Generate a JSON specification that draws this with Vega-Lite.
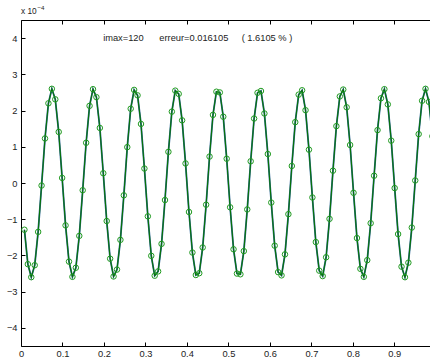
{
  "$schema": "https://vega.github.io/schema/vega-lite/v6.json",
  "width": 409,
  "height": 326,
  "autosize": "none",
  "padding": {"left": 21, "top": 20, "right": 0, "bottom": 12},
  "background": "white",
  "config": {
    "view": {"stroke": null},
    "font": "Liberation Sans",
    "axis": {
      "grid": false,
      "domainColor": "#000000",
      "domainWidth": 1,
      "tickColor": "#000000",
      "tickWidth": 1,
      "labelColor": "#222222",
      "labelFont": "Liberation Sans",
      "labelFontSize": 9.3,
      "title": null
    }
  },
  "resolve": {"axis": {"x": "independent"}, "scale": {"x": "shared", "y": "shared"}},
  "data": {
    "values": [
      {"t": 0.00826, "y": -1.29}, {"t": 0.01653, "y": -2.24}, {"t": 0.02479, "y": -2.6}, {"t": 0.03306, "y": -2.27},
      {"t": 0.04132, "y": -1.35}, {"t": 0.04959, "y": -0.07}, {"t": 0.05785, "y": 1.23}, {"t": 0.06612, "y": 2.2},
      {"t": 0.07438, "y": 2.6}, {"t": 0.08264, "y": 2.31}, {"t": 0.09091, "y": 1.41}, {"t": 0.09917, "y": 0.14},
      {"t": 0.10744, "y": -1.17}, {"t": 0.1157, "y": -2.17}, {"t": 0.12397, "y": -2.59}, {"t": 0.13223, "y": -2.34},
      {"t": 0.1405, "y": -1.46}, {"t": 0.14876, "y": -0.2}, {"t": 0.15702, "y": 1.11}, {"t": 0.16529, "y": 2.13},
      {"t": 0.17355, "y": 2.59}, {"t": 0.18182, "y": 2.37}, {"t": 0.19008, "y": 1.52}, {"t": 0.19835, "y": 0.27},
      {"t": 0.20661, "y": -1.05}, {"t": 0.21488, "y": -2.09}, {"t": 0.22314, "y": -2.58}, {"t": 0.2314, "y": -2.39},
      {"t": 0.23967, "y": -1.57}, {"t": 0.24793, "y": -0.34}, {"t": 0.2562, "y": 0.99}, {"t": 0.26446, "y": 2.05},
      {"t": 0.27273, "y": 2.57}, {"t": 0.28099, "y": 2.42}, {"t": 0.28926, "y": 1.63}, {"t": 0.29752, "y": 0.4},
      {"t": 0.30579, "y": -0.92}, {"t": 0.31405, "y": -2.01}, {"t": 0.32231, "y": -2.56}, {"t": 0.33058, "y": -2.44},
      {"t": 0.33884, "y": -1.68}, {"t": 0.34711, "y": -0.47}, {"t": 0.35537, "y": 0.86}, {"t": 0.36364, "y": 1.97},
      {"t": 0.3719, "y": 2.55}, {"t": 0.38017, "y": 2.46}, {"t": 0.38843, "y": 1.73}, {"t": 0.39669, "y": 0.54},
      {"t": 0.40496, "y": -0.8}, {"t": 0.41322, "y": -1.92}, {"t": 0.42149, "y": -2.54}, {"t": 0.42975, "y": -2.49},
      {"t": 0.43802, "y": -1.78}, {"t": 0.44628, "y": -0.6}, {"t": 0.45455, "y": 0.73}, {"t": 0.46281, "y": 1.88},
      {"t": 0.47107, "y": 2.52}, {"t": 0.47934, "y": 2.5}, {"t": 0.4876, "y": 1.83}, {"t": 0.49587, "y": 0.67},
      {"t": 0.50413, "y": -0.67}, {"t": 0.5124, "y": -1.83}, {"t": 0.52066, "y": -2.5}, {"t": 0.52893, "y": -2.52},
      {"t": 0.53719, "y": -1.88}, {"t": 0.54545, "y": -0.73}, {"t": 0.55372, "y": 0.6}, {"t": 0.56198, "y": 1.78},
      {"t": 0.57025, "y": 2.49}, {"t": 0.57851, "y": 2.54}, {"t": 0.58678, "y": 1.92}, {"t": 0.59504, "y": 0.8},
      {"t": 0.60331, "y": -0.54}, {"t": 0.61157, "y": -1.73}, {"t": 0.61983, "y": -2.46}, {"t": 0.6281, "y": -2.55},
      {"t": 0.63636, "y": -1.97}, {"t": 0.64463, "y": -0.86}, {"t": 0.65289, "y": 0.47}, {"t": 0.66116, "y": 1.68},
      {"t": 0.66942, "y": 2.44}, {"t": 0.67769, "y": 2.56}, {"t": 0.68595, "y": 2.01}, {"t": 0.69421, "y": 0.92},
      {"t": 0.70248, "y": -0.4}, {"t": 0.71074, "y": -1.63}, {"t": 0.71901, "y": -2.42}, {"t": 0.72727, "y": -2.57},
      {"t": 0.73554, "y": -2.05}, {"t": 0.7438, "y": -0.99}, {"t": 0.75207, "y": 0.34}, {"t": 0.76033, "y": 1.57},
      {"t": 0.7686, "y": 2.39}, {"t": 0.77686, "y": 2.58}, {"t": 0.78512, "y": 2.09}, {"t": 0.79339, "y": 1.05},
      {"t": 0.80165, "y": -0.27}, {"t": 0.80992, "y": -1.52}, {"t": 0.81818, "y": -2.37}, {"t": 0.82645, "y": -2.59},
      {"t": 0.83471, "y": -2.13}, {"t": 0.84298, "y": -1.11}, {"t": 0.85124, "y": 0.2}, {"t": 0.8595, "y": 1.46},
      {"t": 0.86777, "y": 2.34}, {"t": 0.87603, "y": 2.59}, {"t": 0.8843, "y": 2.17}, {"t": 0.89256, "y": 1.17},
      {"t": 0.90083, "y": -0.14}, {"t": 0.90909, "y": -1.41}, {"t": 0.91736, "y": -2.31}, {"t": 0.92562, "y": -2.6},
      {"t": 0.93388, "y": -2.2}, {"t": 0.94215, "y": -1.23}, {"t": 0.95041, "y": 0.07}, {"t": 0.95868, "y": 1.35},
      {"t": 0.96694, "y": 2.27}, {"t": 0.97521, "y": 2.6}, {"t": 0.98347, "y": 2.24}, {"t": 0.99174, "y": 1.29}
    ]
  },
  "layer": [
    {
      "mark": {"type": "line", "color": "#2f6596", "strokeWidth": 1.8, "clip": true},
      "encoding": {
        "x": {"field": "t", "type": "quantitative", "scale": {"domain": [0, 0.986], "nice": false, "zero": false},
          "axis": {"orient": "bottom", "values": [0, 0.1, 0.2, 0.3, 0.4, 0.5, 0.6, 0.7, 0.8, 0.9], "format": ".1~f", "tickSize": -4, "labelPadding": 7, "labelFlush": false, "labelOverlap": false}},
        "y": {"field": "y", "type": "quantitative", "scale": {"domain": [-4.5, 4.5], "nice": false, "zero": false},
          "axis": {"orient": "left", "values": [-4, -3, -2, -1, 0, 1, 2, 3, 4], "tickSize": -4, "labelPadding": 8, "labelFlush": false, "labelOverlap": false}}
      }
    },
    {
      "mark": {"type": "line", "color": "#067306", "strokeWidth": 1.1, "clip": true},
      "encoding": {
        "x": {"field": "t", "type": "quantitative",
          "axis": {"orient": "top", "values": [0, 0.1, 0.2, 0.3, 0.4, 0.5, 0.6, 0.7, 0.8, 0.9], "labels": false, "tickSize": -4}},
        "y": {"field": "y", "type": "quantitative"}
      }
    },
    {
      "mark": {"type": "point", "shape": "circle", "filled": false, "size": 30, "stroke": "#1f9a1f", "strokeWidth": 1, "opacity": 1, "clip": true},
      "encoding": {
        "x": {"field": "t", "type": "quantitative", "axis": null},
        "y": {"field": "y", "type": "quantitative"}
      }
    },
    {
      "data": {"values": [{"label": "imax=120"}]},
      "mark": {"type": "text", "align": "left", "baseline": "middle", "fontSize": 9.3, "font": "Liberation Sans", "color": "#222222"},
      "encoding": {"x": {"datum": 0.198, "type": "quantitative", "axis": null}, "y": {"datum": 4.0, "type": "quantitative"}, "text": {"field": "label"}}
    },
    {
      "data": {"values": [{"label": "erreur=0.016105"}]},
      "mark": {"type": "text", "align": "left", "baseline": "middle", "fontSize": 9.3, "font": "Liberation Sans", "color": "#222222"},
      "encoding": {"x": {"datum": 0.3334, "type": "quantitative", "axis": null}, "y": {"datum": 4.0, "type": "quantitative"}, "text": {"field": "label"}}
    },
    {
      "data": {"values": [{"label": "( 1.6105 % )"}]},
      "mark": {"type": "text", "align": "left", "baseline": "middle", "fontSize": 9.3, "font": "Liberation Sans", "color": "#222222"},
      "encoding": {"x": {"datum": 0.532, "type": "quantitative", "axis": null}, "y": {"datum": 4.0, "type": "quantitative"}, "text": {"field": "label"}}
    },
    {
      "data": {"values": [{"label": "x 10"}]},
      "mark": {"type": "text", "align": "left", "baseline": "middle", "fontSize": 8.3, "font": "Liberation Sans", "color": "#222222"},
      "encoding": {"x": {"datum": 0, "type": "quantitative", "axis": null}, "y": {"datum": 4.72, "type": "quantitative"}, "text": {"field": "label"}}
    },
    {
      "data": {"values": [{"label": "−4"}]},
      "mark": {"type": "text", "align": "left", "baseline": "middle", "fontSize": 6.2, "font": "Liberation Sans", "color": "#222222"},
      "encoding": {"x": {"datum": 0.0395, "type": "quantitative", "axis": null}, "y": {"datum": 4.82, "type": "quantitative"}, "text": {"field": "label"}}
    }
  ]
}
